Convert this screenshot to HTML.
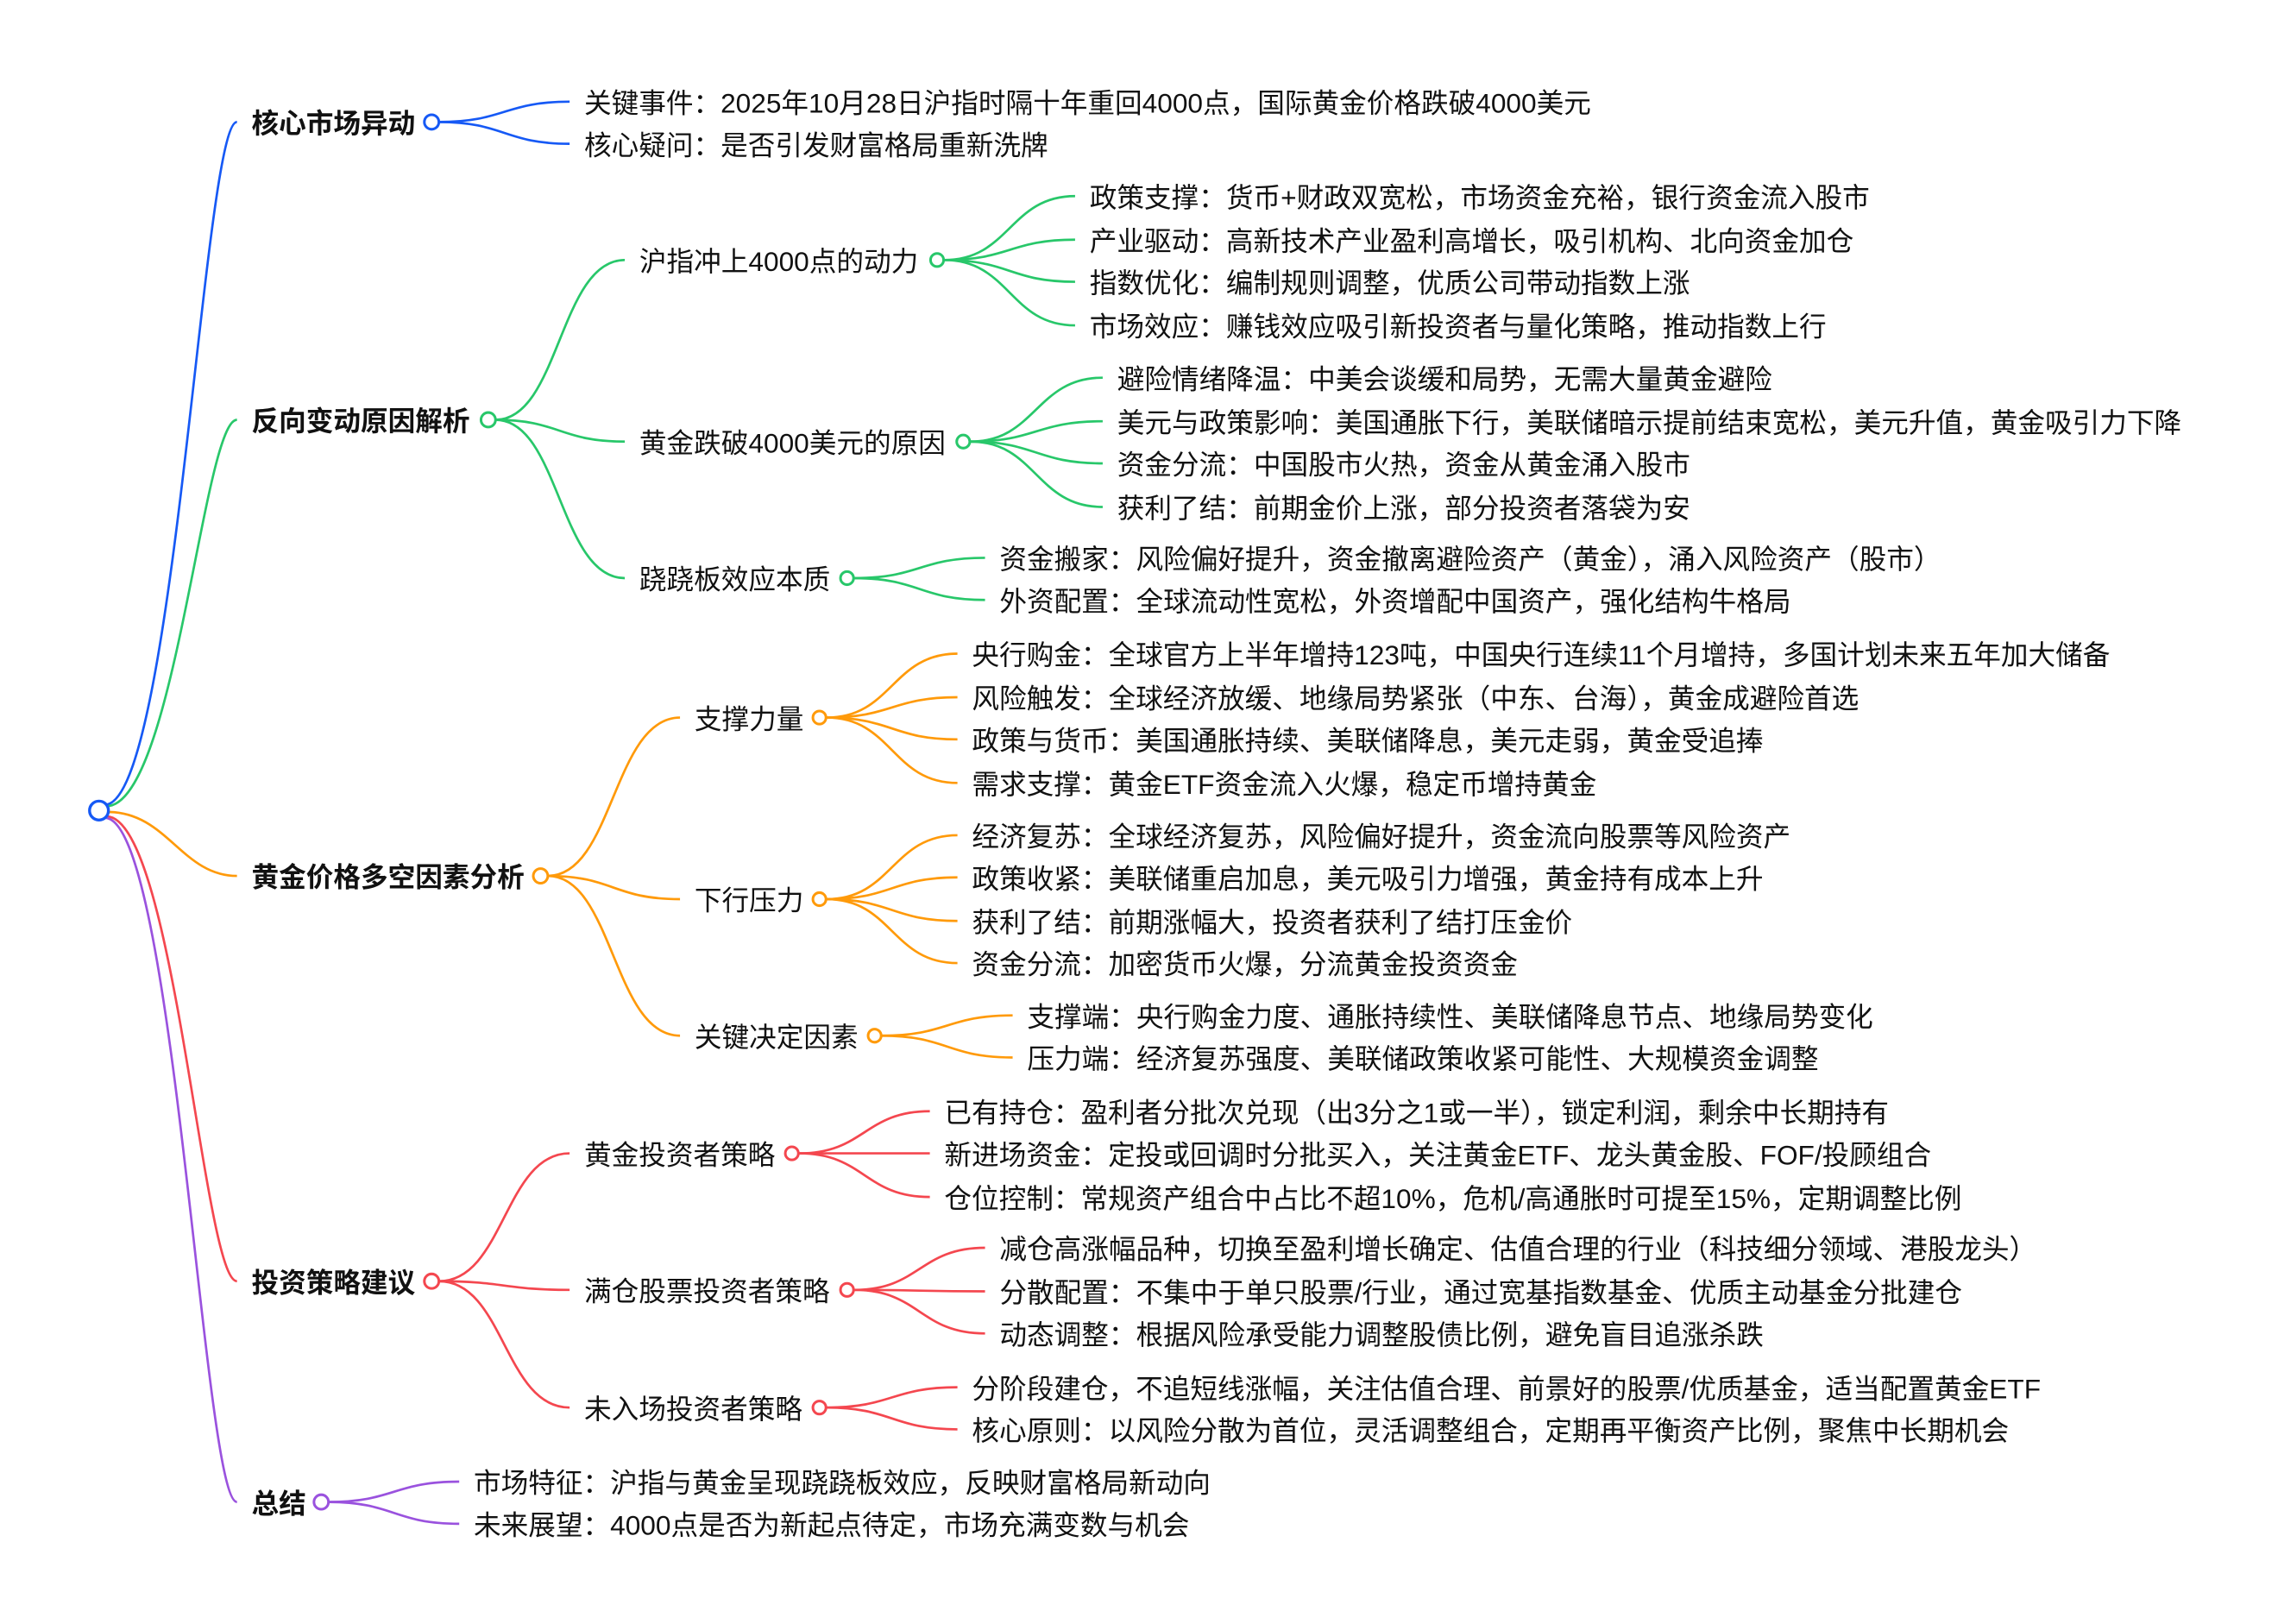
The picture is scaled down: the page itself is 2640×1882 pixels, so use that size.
<!DOCTYPE html>
<html><head><meta charset="utf-8"><style>
html,body{margin:0;padding:0;background:#fff;}
svg{display:block;}
text{font-family:"Liberation Sans","Noto Sans CJK SC",sans-serif;font-size:18.8px;fill:#111;dominant-baseline:central;}
.b{font-weight:bold;}
path{fill:none;stroke-width:1.6;}
circle{fill:#fff;stroke-width:1.8;}
.bl{stroke:#1659f5}.gr{stroke:#28c76a}.or{stroke:#ff9a0a}.rd{stroke:#f4474f}.pu{stroke:#9a52de}
</style></head><body>
<svg width="2640" height="1882" viewBox="0 0 1568 1118" xmlns="http://www.w3.org/2000/svg">
<path class="bl" d="M72 554 C120 554 140 84 163 84"/>
<path class="gr" d="M73 555 C120 555 140 289 163 289"/>
<path class="or" d="M74 559 C115 559 125 603 163 603"/>
<path class="rd" d="M73 562 C120 562 140 882 163 882"/>
<path class="pu" d="M72 563 C120 563 140 1034 163 1034"/>
<circle class="bl" cx="68" cy="558" r="6.5" style="stroke-width:2"/>
<g transform="translate(0,1)">
<text x="173" y="84" class="b">核心市场异动</text>
<text x="402" y="70">关键事件：2025年10月28日沪指时隔十年重回4000点，国际黄金价格跌破4000美元</text>
<text x="402" y="99">核心疑问：是否引发财富格局重新洗牌</text>
<text x="173" y="289" class="b">反向变动原因解析</text>
<text x="440" y="179">沪指冲上4000点的动力</text>
<text x="440" y="304">黄金跌破4000美元的原因</text>
<text x="440" y="398">跷跷板效应本质</text>
<text x="750" y="135">政策支撑：货币+财政双宽松，市场资金充裕，银行资金流入股市</text>
<text x="750" y="165">产业驱动：高新技术产业盈利高增长，吸引机构、北向资金加仓</text>
<text x="750" y="194">指数优化：编制规则调整，优质公司带动指数上涨</text>
<text x="750" y="224">市场效应：赚钱效应吸引新投资者与量化策略，推动指数上行</text>
<text x="769" y="260">避险情绪降温：中美会谈缓和局势，无需大量黄金避险</text>
<text x="769" y="290">美元与政策影响：美国通胀下行，美联储暗示提前结束宽松，美元升值，黄金吸引力下降</text>
<text x="769" y="319">资金分流：中国股市火热，资金从黄金涌入股市</text>
<text x="769" y="349">获利了结：前期金价上涨，部分投资者落袋为安</text>
<text x="688" y="384">资金搬家：风险偏好提升，资金撤离避险资产（黄金），涌入风险资产（股市）</text>
<text x="688" y="413">外资配置：全球流动性宽松，外资增配中国资产，强化结构牛格局</text>
<text x="173" y="603" class="b">黄金价格多空因素分析</text>
<text x="478" y="494">支撑力量</text>
<text x="478" y="619">下行压力</text>
<text x="478" y="713">关键决定因素</text>
<text x="669" y="450">央行购金：全球官方上半年增持123吨，中国央行连续11个月增持，多国计划未来五年加大储备</text>
<text x="669" y="480">风险触发：全球经济放缓、地缘局势紧张（中东、台海），黄金成避险首选</text>
<text x="669" y="509">政策与货币：美国通胀持续、美联储降息，美元走弱，黄金受追捧</text>
<text x="669" y="539">需求支撑：黄金ETF资金流入火爆，稳定币增持黄金</text>
<text x="669" y="575">经济复苏：全球经济复苏，风险偏好提升，资金流向股票等风险资产</text>
<text x="669" y="604">政策收紧：美联储重启加息，美元吸引力增强，黄金持有成本上升</text>
<text x="669" y="634">获利了结：前期涨幅大，投资者获利了结打压金价</text>
<text x="669" y="663">资金分流：加密货币火爆，分流黄金投资资金</text>
<text x="707" y="699">支撑端：央行购金力度、通胀持续性、美联储降息节点、地缘局势变化</text>
<text x="707" y="728">压力端：经济复苏强度、美联储政策收紧可能性、大规模资金调整</text>
<text x="173" y="882" class="b">投资策略建议</text>
<text x="402" y="794">黄金投资者策略</text>
<text x="402" y="888">满仓股票投资者策略</text>
<text x="402" y="969">未入场投资者策略</text>
<text x="650" y="765">已有持仓：盈利者分批次兑现（出3分之1或一半），锁定利润，剩余中长期持有</text>
<text x="650" y="794">新进场资金：定投或回调时分批买入，关注黄金ETF、龙头黄金股、FOF/投顾组合</text>
<text x="650" y="824">仓位控制：常规资产组合中占比不超10%，危机/高通胀时可提至15%，定期调整比例</text>
<text x="688" y="859">减仓高涨幅品种，切换至盈利增长确定、估值合理的行业（科技细分领域、港股龙头）</text>
<text x="688" y="889">分散配置：不集中于单只股票/行业，通过宽基指数基金、优质主动基金分批建仓</text>
<text x="688" y="918">动态调整：根据风险承受能力调整股债比例，避免盲目追涨杀跌</text>
<text x="669" y="955">分阶段建仓，不追短线涨幅，关注估值合理、前景好的股票/优质基金，适当配置黄金ETF</text>
<text x="669" y="984">核心原则：以风险分散为首位，灵活调整组合，定期再平衡资产比例，聚焦中长期机会</text>
<text x="173" y="1034" class="b">总结</text>
<text x="326" y="1020">市场特征：沪指与黄金呈现跷跷板效应，反映财富格局新动向</text>
<text x="326" y="1049">未来展望：4000点是否为新起点待定，市场充满变数与机会</text>
</g>
<path class="bl" d="M302 84 C347 84 347 70 392 70"/>
<path class="bl" d="M302 84 C347 84 347 99 392 99"/>
<circle class="bl" cx="297" cy="84" r="5"/>
<path class="gr" d="M341 289 C385 289 385 179 430 179"/>
<path class="gr" d="M341 289 C385 289 385 304 430 304"/>
<path class="gr" d="M341 289 C385 289 385 398 430 398"/>
<circle class="gr" cx="336" cy="289" r="5"/>
<path class="gr" d="M650 179 C695 179 695 135 740 135"/>
<path class="gr" d="M650 179 C695 179 695 165 740 165"/>
<path class="gr" d="M650 179 C695 179 695 194 740 194"/>
<path class="gr" d="M650 179 C695 179 695 224 740 224"/>
<circle class="gr" cx="645" cy="179" r="4.5"/>
<path class="gr" d="M668 304 C713 304 713 260 759 260"/>
<path class="gr" d="M668 304 C713 304 713 290 759 290"/>
<path class="gr" d="M668 304 C713 304 713 319 759 319"/>
<path class="gr" d="M668 304 C713 304 713 349 759 349"/>
<circle class="gr" cx="663" cy="304" r="4.5"/>
<path class="gr" d="M588 398 C633 398 633 384 678 384"/>
<path class="gr" d="M588 398 C633 398 633 413 678 413"/>
<circle class="gr" cx="583" cy="398" r="4.5"/>
<path class="or" d="M377 603 C422 603 422 494 468 494"/>
<path class="or" d="M377 603 C422 603 422 619 468 619"/>
<path class="or" d="M377 603 C422 603 422 713 468 713"/>
<circle class="or" cx="372" cy="603" r="5"/>
<path class="or" d="M569 494 C614 494 614 450 659 450"/>
<path class="or" d="M569 494 C614 494 614 480 659 480"/>
<path class="or" d="M569 494 C614 494 614 509 659 509"/>
<path class="or" d="M569 494 C614 494 614 539 659 539"/>
<circle class="or" cx="564" cy="494" r="4.5"/>
<path class="or" d="M569 619 C614 619 614 575 659 575"/>
<path class="or" d="M569 619 C614 619 614 604 659 604"/>
<path class="or" d="M569 619 C614 619 614 634 659 634"/>
<path class="or" d="M569 619 C614 619 614 663 659 663"/>
<circle class="or" cx="564" cy="619" r="4.5"/>
<path class="or" d="M607 713 C652 713 652 699 697 699"/>
<path class="or" d="M607 713 C652 713 652 728 697 728"/>
<circle class="or" cx="602" cy="713" r="4.5"/>
<path class="rd" d="M302 882 C347 882 347 794 392 794"/>
<path class="rd" d="M302 882 C347 882 347 888 392 888"/>
<path class="rd" d="M302 882 C347 882 347 969 392 969"/>
<circle class="rd" cx="297" cy="882" r="5"/>
<path class="rd" d="M550 794 C595 794 595 765 640 765"/>
<path class="rd" d="M550 794 C595 794 595 794 640 794"/>
<path class="rd" d="M550 794 C595 794 595 824 640 824"/>
<circle class="rd" cx="545" cy="794" r="4.5"/>
<path class="rd" d="M588 888 C633 888 633 859 678 859"/>
<path class="rd" d="M588 888 C633 888 633 889 678 889"/>
<path class="rd" d="M588 888 C633 888 633 918 678 918"/>
<circle class="rd" cx="583" cy="888" r="4.5"/>
<path class="rd" d="M569 969 C614 969 614 955 659 955"/>
<path class="rd" d="M569 969 C614 969 614 984 659 984"/>
<circle class="rd" cx="564" cy="969" r="4.5"/>
<path class="pu" d="M226 1034 C271 1034 271 1020 316 1020"/>
<path class="pu" d="M226 1034 C271 1034 271 1049 316 1049"/>
<circle class="pu" cx="221" cy="1034" r="5"/>
</svg>
</body></html>
